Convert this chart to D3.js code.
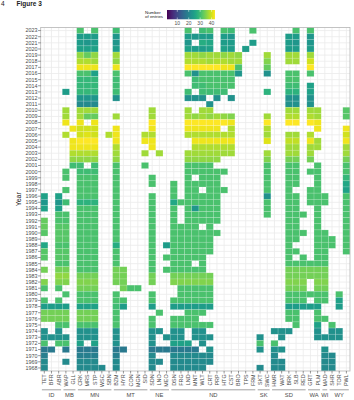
<!DOCTYPE html>
<html><head><meta charset="utf-8">
<script src="https://cdn.jsdelivr.net/npm/d3@7"></script>
<style>body{margin:0;background:#fff}svg{display:block;font-family:"Liberation Sans",Arial,sans-serif}</style>
</head><body><svg id="c" width="354" height="400"></svg>
<script>
const _ = null;
const years = [2023,2022,2021,2020,2019,2018,2017,2016,2015,2014,2013,2012,2011,2010,2009,2008,2007,2006,2005,2004,2003,2002,2001,2000,1999,1998,1997,1996,1995,1994,1993,1992,1991,1990,1989,1988,1987,1986,1985,1984,1983,1982,1981,1980,1979,1978,1977,1976,1975,1974,1973,1972,1971,1970,1969,1968];
const sites = ["TET","BFR","ABR","WAP","GLL","CRK","MRS","STP","WSC","SBN","BZM","HYR","CON","MGN","SID","SDN","LNO","MEO","DSN","FRG","LND","MNT","WLT","CRT","PRP","HTG","CST","BRO","TPS","FRM","SKT","SWC","HMR","WAT","BRK","SLB","RED","GRT","PLM","MAD","SHR","TOR","PWL"];
const states = ["ID","MB","MN","MT","NE","ND","SK","SD","WA","WI","WY"];
const stateSize = [3,2,5,5,3,12,2,5,2,1,3];
const legendTicks = [10,20,30,40];
const colourDomain = [1,43];
// rows follow `years`; columns follow `sites` (groups: ID|MB|MN|MT|NE|ND|SK|SD|WA|WI|WY)
const entries = [
[_,_,_, _,_, 31,_,31,_,_, 30,_,_,_,_, _,_,_, _,_,31,_,30,31,_,31,30,_,_,31, _,_, _,_,_,31,_, 31,_, _, _,_,_],
[_,_,_, _,_, 24,24,24,_,_, 23,_,_,_,_, _,_,_, _,_,24,23,24,24,_,24,23,_,_,_, _,_, _,_,24,24,_, 23,_, _, _,_,_],
[_,_,_, _,_, 24,23,24,_,_, 23,_,_,_,_, _,_,_, _,_,23,_,27,26,_,24,24,_,_,24, _,_, _,_,24,23,_, 23,_, _, _,_,_],
[_,_,_, _,_, 25,25,25,_,_, 24,_,_,_,_, _,_,_, _,_,25,24,24,25,_,25,24,_,24,_, _,_, _,_,24,24,_, 24,_, _, _,_,_],
[_,_,_, _,_, 36,33,36,_,_, 37,_,_,_,_, _,_,_, _,_,37,37,36,37,37,36,37,36,_,_, _,37, _,_,37,37,_, 37,_, _, _,_,_],
[_,_,_, _,_, 38,38,37,_,_, 36,_,_,_,_, _,_,_, _,_,38,38,38,37,38,38,37,37,_,_, _,35, _,_,37,37,_, 40,_, _, _,_,_],
[_,_,_, _,_, 42,42,42,_,_, 42,_,_,_,_, _,_,_, _,_,43,43,43,43,43,42,42,31,_,_, _,33, _,_,_,_,_, 43,_, _, _,_,_],
[_,_,_, _,_, 31,31,25,_,_, 31,_,_,_,_, _,_,_, _,_,31,22,31,31,31,31,31,23,_,_, _,22, _,_,31,31,_, 31,_, _, _,_,_],
[_,_,_, _,_, 29,29,29,_,_, 30,_,_,_,_, _,_,_, _,_,_,30,31,31,31,31,31,_,_,_, _,_, _,_,31,31,_, _,_, _, _,_,_],
[_,_,_, _,_, 29,29,29,_,_, 30,_,_,_,_, _,_,_, _,_,_,30,30,31,31,31,31,_,_,_, _,_, _,_,30,30,_, 25,_, _, _,_,_],
[_,_,_, 24,_, 29,29,29,_,_, 30,_,_,_,_, _,_,_, _,_,30,_,30,30,30,30,_,_,_,_, _,28, _,_,28,28,_, 25,_, _, _,_,_],
[_,_,_, _,_, 23,23,23,_,_, 22,_,_,_,_, _,_,_, _,_,22,22,22,_,22,_,22,_,_,_, _,_, _,_,22,22,_, 22,_, _, _,_,_],
[_,_,_, _,_, 21,21,21,_,_, _,_,_,_,_, _,_,_, _,_,_,_,_,22,_,_,_,_,_,_, _,_, _,_,22,22,_, 22,_, _, _,_,_],
[_,_,_, 37,_, 37,37,37,_,_, _,_,_,_,_, 37,_,_, _,_,37,_,37,37,_,_,_,_,_,_, _,_, _,_,37,37,_, 37,37, _, _,_,32],
[_,_,_, 37,_, 37,33,33,_,_, 37,_,_,_,_, 37,_,_, _,_,37,36,37,36,37,36,35,_,_,_, _,37, _,_,38,38,_, 38,37, _, _,_,32],
[_,_,_, 42,_, 42,_,42,_,_, _,_,_,_,_, 43,_,_, _,_,43,43,43,43,43,43,42,_,_,_, _,43, _,_,43,43,_, 43,42, _, _,_,_],
[_,_,_, _,42, 40,40,40,_,_, 42,_,_,_,_, 42,_,_, _,_,42,42,42,42,42,_,38,_,_,_, _,38, _,_,_,_,_, _,42, _, _,_,42],
[_,_,_, 38,_, 40,41,40,_,38, 42,_,_,_,38, 38,_,_, _,_,38,38,38,38,38,38,38,_,_,_, _,37, _,_,37,37,_, 38,_, _, _,_,40],
[_,_,_, _,42, 43,43,43,_,_, 42,_,_,_,42, 42,_,_, _,_,_,42,42,42,42,42,42,_,_,_, _,41, _,_,39,39,_, 42,37, _, _,_,42],
[_,_,_, _,42, 42,42,42,_,_, 38,_,_,_,_, 42,_,_, _,_,_,38,38,38,38,38,38,_,_,_, _,_, _,_,37,37,_, 37,37, _, _,_,37],
[_,_,_, _,38, 38,38,38,_,_, 37,_,_,_,37, _,37,_, _,_,37,37,37,37,37,37,37,_,_,_, _,37, _,_,37,37,_, 37,_, _, _,_,37],
[_,_,_, _,36, 36,36,36,_,_, 36,_,_,_,_, _,_,_, _,_,36,36,36,36,36,_,_,_,_,_, _,35, _,_,34,34,_, 34,_, _, _,_,34],
[_,_,_, _,30, 30,_,30,_,_, 31,_,_,_,31, _,_,_, _,_,31,31,31,31,_,_,_,_,_,_, _,31, _,_,31,31,_, _,31, _, _,_,31],
[_,_,_, 31,_, 30,30,30,_,_, 31,_,_,_,_, _,_,_, _,_,31,31,31,31,31,31,_,_,_,_, _,31, _,_,31,31,_, 31,31, _, _,_,31],
[_,_,_, 31,_, 31,31,31,_,_, 31,_,_,_,_, 31,_,_, _,_,31,_,31,31,31,_,_,_,_,_, _,31, _,_,31,31,_, _,31, _, _,_,29],
[_,_,_, _,_, 31,31,31,_,_, 31,_,_,_,_, 31,_,_, 31,_,31,31,31,31,31,_,_,_,_,_, _,31, _,_,31,31,_, _,31, _, _,_,26],
[_,_,_, 31,_, 31,31,31,_,_, 31,_,_,_,_, _,_,_, 31,_,31,31,_,31,31,31,_,_,_,_, _,31, _,_,31,_,_, 31,31, _, _,_,25],
[25,_,25, _,_, 31,31,31,_,_, 31,_,_,_,_, 31,_,_, 31,_,31,31,31,31,31,_,_,_,_,_, _,22, _,_,31,31,_, 31,31, 31, _,_,31],
[23,_,23, 30,_, 28,28,28,_,_, 31,_,_,_,_, 31,_,_, 26,31,31,31,31,31,31,_,_,_,_,_, _,31, _,_,31,31,_, 31,31, 31, _,_,31],
[25,_,25, _,_, 31,31,31,_,_, 31,_,_,_,_, 31,_,_, 31,_,31,23,31,31,31,_,_,_,_,_, _,31, _,_,31,31,_, _,31, _, _,_,31],
[_,_,31, 31,_, 31,31,31,_,_, 31,_,_,_,_, 31,_,_, 31,_,31,31,31,31,31,_,_,_,_,_, _,31, _,_,31,31,31, _,31, _, _,_,31],
[33,_,31, 31,_, 31,31,31,_,_, 31,_,_,_,_, 31,_,_, 31,_,31,31,31,31,31,_,_,_,_,_, _,_, _,_,31,31,_, _,31, _, _,_,31],
[33,_,32, 32,_, 31,31,31,_,_, 31,_,_,_,_, 31,_,_, 31,31,31,31,_,31,_,_,_,_,_,_, _,_, _,_,31,31,_, _,31, _, _,_,31],
[32,_,32, 32,_, 31,31,31,_,_, 31,_,_,_,_, 31,_,_, 31,31,31,31,31,31,31,_,_,_,_,_, _,_, _,_,31,31,31, _,31, 31, _,_,31],
[_,_,32, 32,_, 31,31,31,_,_, 31,_,_,_,_, 31,_,_, 31,31,31,31,31,31,_,_,_,_,_,_, _,_, _,_,31,31,_, _,31, 31, 31,_,31],
[26,_,31, 31,_, 31,31,31,_,_, 27,_,_,_,_, 31,_,24, 31,31,31,31,31,31,_,_,_,_,_,_, _,_, _,_,31,_,_, _,31, 31, 31,_,31],
[32,_,32, 32,_, 31,31,31,_,_, 31,_,_,_,_, 31,_,_, 31,31,31,31,31,31,_,_,_,_,_,_, _,_, _,_,31,31,_, _,31, 31, _,_,31],
[32,_,32, 32,_, 31,31,31,_,_, 31,_,_,_,_, 31,_,31, 31,31,31,31,31,_,_,_,_,_,_,_, _,_, _,_,31,_,31, _,31, 31, _,_,_],
[_,_,31, 31,_, 31,31,31,_,_, 31,_,_,_,_, 31,_,_, 31,31,31,_,31,_,_,_,_,_,_,_, _,_, _,_,31,31,31, 31,31, 31, _,_,_],
[34,_,34, 34,_, 31,31,31,_,_, 34,34,_,_,_, 31,_,31, 31,31,31,31,31,_,_,_,_,_,_,_, _,_, _,_,34,34,34, 34,34, 34, _,_,_],
[_,_,36, 36,_, 34,34,34,_,_, 34,34,_,_,_, 34,_,_, 34,34,34,34,34,34,_,_,_,_,_,_, _,_, _,_,34,34,34, 34,34, 34, _,_,_],
[35,_,35, 35,_, 35,35,35,_,_, 34,34,_,_,_, 34,_,_, 35,35,35,35,35,35,_,_,_,_,_,_, _,_, _,_,35,35,35, _,35, 35, _,_,_],
[31,_,31, _,_, 34,34,34,_,_, _,34,31,31,_, _,_,_, _,31,31,31,31,31,_,_,_,_,_,_, _,_, _,_,34,34,34, _,34, 34, _,_,_],
[_,_,_, 31,_, 31,31,31,_,_, 31,_,_,_,_, 31,_,_, _,31,31,31,31,31,_,_,_,_,_,_, _,_, _,_,31,31,31, 31,31, 31, _,31,_],
[31,_,31, _,_, 31,31,31,_,_, 31,31,_,_,_, 31,_,_, 31,31,31,31,31,31,_,_,_,_,_,_, _,_, _,_,31,31,31, _,31, 31, _,25,_],
[24,24,24, 24,_, 25,25,25,_,_, 30,24,_,_,_, 24,_,_, 24,24,24,24,24,24,_,_,_,_,_,_, _,_, _,_,24,24,24, 24,24, _, _,24,_],
[34,34,34, 34,_, 34,34,34,_,_, 31,_,_,_,_, _,31,_, _,_,31,31,31,_,_,_,_,_,_,_, _,_, _,_,31,31,_, _,31, _, _,_,_],
[34,34,34, 34,_, 34,34,34,_,_, 31,_,_,_,_, 31,_,_, 31,31,31,31,_,_,_,_,_,_,_,_, _,_, _,_,31,31,_, _,31, 31, _,_,_],
[_,_,31, 31,_, 31,31,31,_,_, 31,_,_,_,_, 31,_,_, 31,31,31,31,31,31,_,_,_,_,_,_, _,_, _,_,_,31,_, _,25, _, 31,_,_],
[22,_,22, _,_, 22,22,22,_,_, 22,_,_,_,_, 22,22,_, 22,22,_,22,22,_,_,_,_,_,_,_, _,_, 22,22,22,_,_, _,22, _, 22,22,_],
[22,22,22, 22,_, 22,22,22,_,_, 22,_,_,_,_, 22,_,22, 22,22,_,22,22,22,_,_,_,_,_,_, 22,_, _,22,_,_,_, _,22, 22, 22,22,_],
[31,_,31, 31,_, 25,_,25,_,_, 22,_,_,_,_, 22,_,_, 25,25,25,_,22,_,_,_,_,_,_,_, 31,_, 31,_,_,_,_, _,_, _, _,_,_],
[18,18,_, 18,_, 18,18,18,_,_, 18,18,_,_,_, 18,18,18, 18,18,18,18,_,22,_,_,_,_,_,_, 22,_, 22,22,_,_,_, _,_, 22, _,_,_],
[19,_,_, _,_, 19,19,19,_,_, 19,_,_,_,_, 21,_,_, 21,21,21,21,21,21,_,_,_,_,_,_, _,_, 21,_,_,_,_, _,_, 21, 21,_,_],
[21,_,_, 21,_, 21,21,21,_,_, 21,_,_,_,_, 21,21,_, 21,21,21,21,21,21,_,_,_,_,_,_, _,_, 21,21,_,_,_, _,_, 21, 21,_,_],
[21,_,_, _,_, 21,21,21,21,_, 21,_,_,_,_, 21,_,_, 21,21,21,21,21,_,_,_,_,_,_,_, 21,_, 21,21,_,_,_, _,_, 21, 21,_,_]
];

const svg = d3.select("#c");
const L = 40.7, R = 350, T = 27.5, B = 371;
const x = d3.scaleBand().domain(sites).range([L, R]);
const y = d3.scaleBand().domain(years).range([T, B]);
const col = d3.scaleSequential(d3.interpolateViridis).domain(colourDomain);
const bw = x.bandwidth(), bh = y.bandwidth();

// title
svg.append("text").attr("x",1).attr("y",5.6).attr("font-size",6.5).attr("fill","#222").text("4");
svg.append("text").attr("x",16.5).attr("y",5.6).attr("font-size",6.5).attr("font-weight","bold").attr("fill","#222").text("Figure 3");

// grid
const g = svg.append("g");
g.selectAll("line.v").data(sites).join("line")
  .attr("x1",d=>x(d)+bw/2).attr("x2",d=>x(d)+bw/2).attr("y1",T).attr("y2",B)
  .attr("stroke","#ebebeb").attr("stroke-width",0.8);
g.selectAll("line.h").data(years).join("line").attr("class","h")
  .attr("y1",d=>y(d)+bh/2).attr("y2",d=>y(d)+bh/2).attr("x1",L).attr("x2",R)
  .attr("stroke","#ebebeb").attr("stroke-width",0.8);

// tiles
const cells = [];
years.forEach((yr,i)=>entries[i].forEach((v,j)=>{ if(v!=null) cells.push({yr, site:sites[j], v}); }));
svg.append("g").selectAll("rect").data(cells).join("rect")
  .attr("x",d=>x(d.site)).attr("y",d=>y(d.yr)).attr("width",bw).attr("height",bh)
  .attr("fill",d=>col(d.v)).attr("stroke","#ffffff").attr("stroke-opacity",0.3).attr("stroke-width",0.5);

// border
svg.append("rect").attr("x",L).attr("y",T).attr("width",R-L).attr("height",B-T)
  .attr("fill","none").attr("stroke","#b5b5b5").attr("stroke-width",0.8);

// y axis
const ya = svg.append("g");
ya.selectAll("line").data(years).join("line")
  .attr("x1",L-2.6).attr("x2",L).attr("y1",d=>y(d)+bh/2).attr("y2",d=>y(d)+bh/2)
  .attr("stroke","#333").attr("stroke-width",0.5);
ya.selectAll("text").data(years).join("text")
  .attr("x",L-3.3).attr("y",d=>y(d)+bh/2).attr("dy","0.35em").attr("text-anchor","end")
  .attr("font-size",5.4).attr("fill","#4d4d4d").text(d=>d);
svg.append("text").attr("transform",`translate(21,${(T+B)/2}) rotate(-90)`)
  .attr("text-anchor","middle").attr("font-size",7).attr("fill","#111").text("Year");

// x axis
const xa = svg.append("g");
xa.selectAll("line").data(sites).join("line")
  .attr("x1",d=>x(d)+bw/2).attr("x2",d=>x(d)+bw/2).attr("y1",B).attr("y2",B+2.5)
  .attr("stroke","#333").attr("stroke-width",0.5);
xa.selectAll("text").data(sites).join("text")
  .attr("transform",d=>`translate(${x(d)+bw/2},${B+3.4}) rotate(-90)`)
  .attr("dy","0.35em").attr("text-anchor","end")
  .attr("font-size",5.4).attr("fill","#4d4d4d").text(d=>d);

// state groups
let start = 0;
const grp = svg.append("g");
states.forEach((s,k)=>{
  const a = sites[start], b = sites[start+stateSize[k]-1];
  const x0 = x(a)+1.2, x1 = x(b)+bw-1.2;
  grp.append("line").attr("x1",x0).attr("x2",x1).attr("y1",389.8).attr("y2",389.8)
    .attr("stroke","#8a8a8a").attr("stroke-width",0.8);
  grp.append("text").attr("x",(x(a)+x(b)+bw)/2).attr("y",397.2).attr("text-anchor","middle")
    .attr("font-size",5.8).attr("fill","#4d4d4d").text(s);
  start += stateSize[k];
});

// legend
const lx = d3.scaleLinear().domain(colourDomain).range([167,215]);
const defs = svg.append("defs");
const grad = defs.append("linearGradient").attr("id","vg");
d3.range(0,1.0001,0.05).forEach(t=>grad.append("stop").attr("offset",t).attr("stop-color",d3.interpolateViridis(t)));
svg.append("rect").attr("x",167).attr("y",10).attr("width",48).attr("height",9.3).attr("fill","url(#vg)");
const lg = svg.append("g");
legendTicks.forEach(v=>{
  lg.append("line").attr("x1",lx(v)).attr("x2",lx(v)).attr("y1",10).attr("y2",11.8).attr("stroke","#fff").attr("stroke-width",0.5);
  lg.append("line").attr("x1",lx(v)).attr("x2",lx(v)).attr("y1",17.5).attr("y2",19.3).attr("stroke","#fff").attr("stroke-width",0.5);
  lg.append("text").attr("x",lx(v)).attr("y",25).attr("text-anchor","middle").attr("font-size",5).attr("fill","#4d4d4d").text(v);
});
svg.append("text").attr("x",145).attr("y",13.5).attr("font-size",4.4).attr("fill","#222").text("Number");
svg.append("text").attr("x",145).attr("y",17.6).attr("font-size",4.4).attr("fill","#222").text("of entries");
</script></body></html>
